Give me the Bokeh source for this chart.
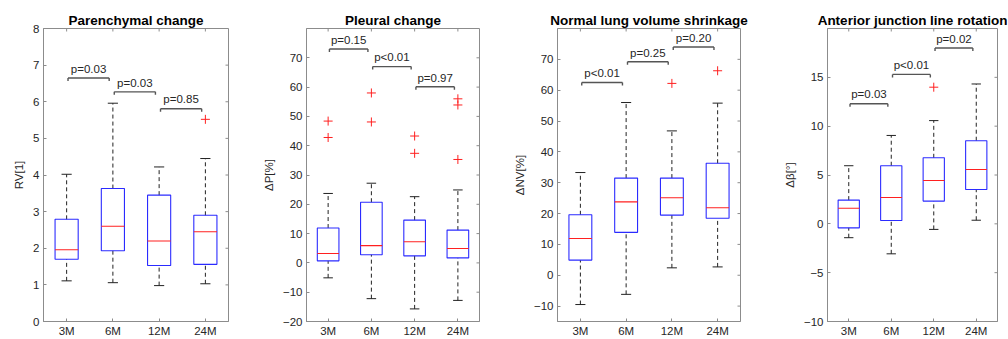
from bokeh.plotting import figure
from bokeh.layouts import row
from bokeh.models import FixedTicker, Range1d
from bokeh.core.properties import value
from bokeh.embed import file_html
from bokeh.resources import INLINE

# ---------------- data ----------------
groups = ["3M", "6M", "12M", "24M"]

titles = ["Parenchymal change", "Pleural change",
          "Normal lung volume shrinkage", "Anterior junction line rotation"]
ylabels = ["RV[1]", "\u0394P[%]", "\u0394NV[%]", "\u0394\u03b2[\u00b0]"]

# Parenchymal change (RV)
rv_low = [1.11, 1.06, 0.98, 1.03]
rv_q1 = [1.70, 1.93, 1.53, 1.56]
rv_med = [1.96, 2.60, 2.20, 2.45]
rv_q3 = [2.79, 3.63, 3.45, 2.90]
rv_high = [4.02, 5.96, 4.22, 4.45]
rv_out_grp = ["24M"]
rv_out_val = [5.52]
rv_p = ["p=0.03", "p=0.03", "p=0.85"]
rv_p_y = [6.65, 6.27, 5.81]

# Pleural change (dP)
dp_low = [-5.1, -12.2, -15.7, -12.8]
dp_q1 = [0.7, 2.8, 2.4, 1.7]
dp_med = [3.2, 5.9, 7.2, 4.9]
dp_q3 = [11.9, 20.7, 14.6, 11.2]
dp_high = [23.7, 27.2, 22.6, 24.9]
dp_out_grp = ["3M", "3M", "6M", "6M", "12M", "12M", "24M", "24M", "24M"]
dp_out_val = [48.4, 42.8, 58.0, 48.1, 43.3, 37.4, 56.0, 53.9, 35.3]
dp_p = ["p=0.15", "p<0.01", "p=0.97"]
dp_p_y = [73.0, 67.0, 60.1]

# Normal lung volume shrinkage (dNV)
nv_low = [-9.5, -6.2, 2.4, 2.7]
nv_q1 = [4.9, 13.9, 19.5, 18.5]
nv_med = [11.9, 23.8, 25.1, 21.9]
nv_q3 = [19.6, 31.5, 31.5, 36.3]
nv_high = [33.3, 56.0, 46.8, 55.8]
nv_out_grp = ["12M", "24M"]
nv_out_val = [62.2, 66.3]
nv_p = ["p<0.01", "p=0.25", "p=0.20"]
nv_p_y = [62.5, 69.2, 74.0]

# Anterior junction line rotation (dBeta)
ab_low = [-1.42, -3.07, -0.57, 0.37]
ab_q1 = [-0.41, 0.34, 2.33, 3.51]
ab_med = [1.59, 2.70, 4.43, 5.57]
ab_q3 = [2.43, 5.95, 6.76, 8.51]
ab_high = [5.95, 9.05, 10.57, 14.32]
ab_out_grp = ["12M"]
ab_out_val = [13.99]
ab_p = ["p=0.03", "p<0.01", "p=0.02"]
ab_p_y = [12.3, 15.3, 18.0]

# axis limits and ticks
y_limits = [(0, 8), (-20, 80), (-15, 80), (-10, 20)]
y_ticks = [list(range(0, 9)), list(range(-20, 71, 10)),
           list(range(-10, 71, 10)), [-10, -5, 0, 5, 10, 15]]

# ---------------- layout ----------------
FONT = "Liberation Sans"
FRAME_H = 294
B_TOP = 28
B_BOT = 17
frame_w = [185, 173, 183, 170]
border_l = [43, 68, 68, 77]
border_r = [10, 10, 10, 11]
AX_COLOR = "#8c8c8c"
TXT_COLOR = "#262626"
BR_COLOR = "#555555"
TICK_PX = 3.0


def make_panel(i, low, q1, med, q3, high, out_grp, out_val, pvals, p_y):
    y0, y1 = y_limits[i]
    x0r, x1r = 0.5, 4.5
    p = figure(width=border_l[i] + frame_w[i] + border_r[i],
               height=B_TOP + FRAME_H + B_BOT,
               x_range=Range1d(x0r, x1r), y_range=Range1d(y0, y1),
               output_backend="svg", toolbar_location=None,
               min_border_left=border_l[i], min_border_right=border_r[i],
               min_border_top=B_TOP, min_border_bottom=B_BOT)
    p.background_fill_color = "white"
    p.border_fill_color = "white"
    p.outline_line_color = AX_COLOR
    p.grid.visible = False

    p.title.text = titles[i]
    p.title.align = "center"
    p.title.text_font = FONT
    p.title.text_font_size = "13.5px"
    p.title.text_font_style = "bold"
    p.title.text_color = "black"
    p.title.standoff = 2

    xs = [k + 1 for k in range(len(groups))]
    pos = {g: k + 1 for k, g in enumerate(groups)}
    bw = 0.25
    cw = 0.11
    dy = TICK_PX * (y1 - y0) / FRAME_H           # one tick length in y units
    dx = TICK_PX * (x1r - x0r) / frame_w[i]      # one tick length in x units

    # whiskers
    p.segment(x0=xs, y0=q3, x1=xs, y1=high, line_color="#222222",
              line_dash="4 3", line_width=1)
    p.segment(x0=xs, y0=low, x1=xs, y1=q1, line_color="#222222",
              line_dash="4 3", line_width=1)
    # caps
    p.segment(x0=[x - cw for x in xs], y0=high, x1=[x + cw for x in xs],
              y1=high, line_color="#222222", line_width=1)
    p.segment(x0=[x - cw for x in xs], y0=low, x1=[x + cw for x in xs],
              y1=low, line_color="#222222", line_width=1)
    # boxes
    p.quad(left=[x - bw for x in xs], right=[x + bw for x in xs],
           bottom=q1, top=q3, fill_alpha=0, line_color="#2b2bff",
           line_width=1.1)
    # medians
    p.segment(x0=[x - bw for x in xs], y0=med, x1=[x + bw for x in xs],
              y1=med, line_color="#ff2020", line_width=1.1)
    # outliers
    p.scatter(x=[pos[g] for g in out_grp], y=out_val, marker="cross",
              size=9, line_color="#ff2020", line_width=1)

    # significance brackets
    bx0 = [k + 1 + 0.03 for k in range(len(pvals))]
    bx1 = [k + 1 + 0.92 for k in range(len(pvals))]
    p.segment(x0=bx0, y0=p_y, x1=bx1, y1=p_y, line_color=BR_COLOR,
              line_width=1.4)
    p.segment(x0=bx0, y0=p_y, x1=bx0, y1=[y - dy for y in p_y],
              line_color=BR_COLOR, line_width=1.4)
    p.segment(x0=bx1, y0=p_y, x1=bx1, y1=[y - dy for y in p_y],
              line_color=BR_COLOR, line_width=1.4)
    p.text(x=[(a + b) / 2 for a, b in zip(bx0, bx1)],
           y=[y + 1.1 * dy for y in p_y], text=pvals,
           text_align="center", text_baseline="bottom",
           text_font=value(FONT), text_font_size="11.5px",
           text_color=TXT_COLOR)

    # box ticks on the right and top sides (MATLAB "box on")
    p.segment(x0=[x1r - dx] * len(y_ticks[i]), y0=y_ticks[i],
              x1=[x1r] * len(y_ticks[i]), y1=y_ticks[i],
              line_color=AX_COLOR, line_width=1)
    p.segment(x0=xs, y0=[y1 - dy] * len(xs), x1=xs, y1=[y1] * len(xs),
              line_color=AX_COLOR, line_width=1)

    # axes
    p.xaxis.ticker = FixedTicker(ticks=xs)
    p.xaxis.major_label_overrides = {x: g for x, g in zip(xs, groups)}
    p.yaxis.ticker = FixedTicker(ticks=y_ticks[i])
    p.yaxis.axis_label = ylabels[i]
    for ax in (p.xaxis[0], p.yaxis[0]):
        ax.axis_line_color = AX_COLOR
        ax.major_tick_line_color = AX_COLOR
        ax.major_tick_in = 3
        ax.major_tick_out = 0
        ax.minor_tick_line_color = None
        ax.major_label_text_font = FONT
        ax.major_label_text_font_size = "11.5px"
        ax.major_label_text_color = TXT_COLOR
        ax.major_label_standoff = 4
    p.yaxis.axis_label_text_font = FONT
    p.yaxis.axis_label_text_font_size = "11.5px"
    p.yaxis.axis_label_text_font_style = "normal"
    p.yaxis.axis_label_text_color = TXT_COLOR
    p.yaxis.axis_label_standoff = 5
    p.xaxis.major_label_standoff = 3
    return p


panels = [
    make_panel(0, rv_low, rv_q1, rv_med, rv_q3, rv_high, rv_out_grp,
               rv_out_val, rv_p, rv_p_y),
    make_panel(1, dp_low, dp_q1, dp_med, dp_q3, dp_high, dp_out_grp,
               dp_out_val, dp_p, dp_p_y),
    make_panel(2, nv_low, nv_q1, nv_med, nv_q3, nv_high, nv_out_grp,
               nv_out_val, nv_p, nv_p_y),
    make_panel(3, ab_low, ab_q1, ab_med, ab_q3, ab_high, ab_out_grp,
               ab_out_val, ab_p, ab_p_y),
]

layout = row(*panels)
open("out.html", "w").write(file_html(layout, INLINE))
